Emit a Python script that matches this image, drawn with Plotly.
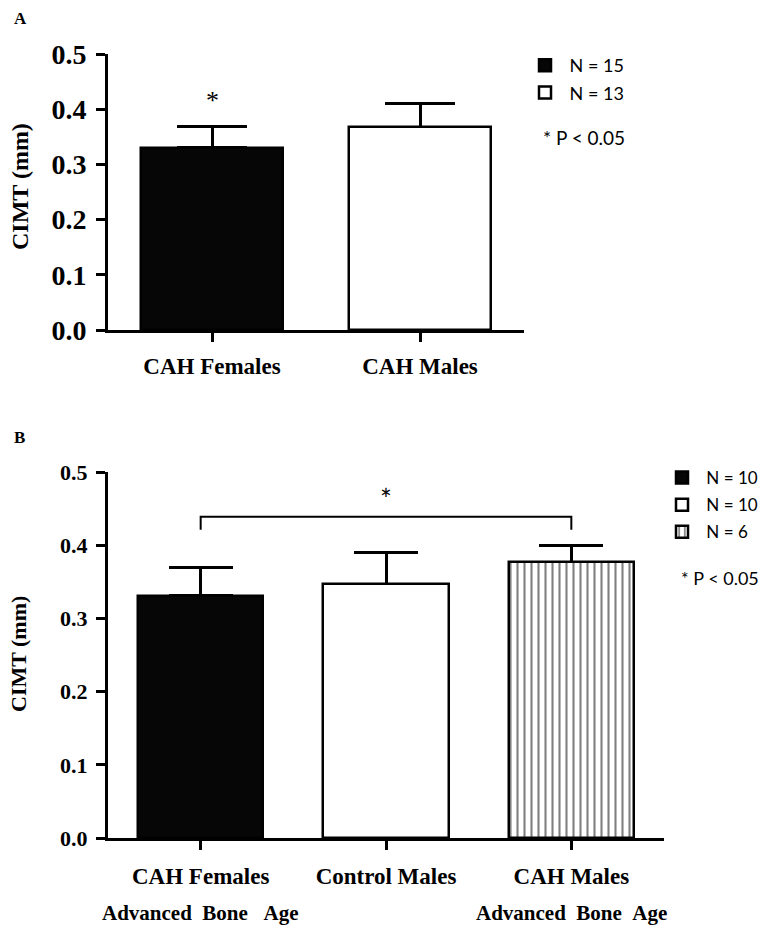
import plotly.graph_objects as go

# ---------------- data ----------------
cats_a = ["CAH Females", "CAH Males"]
mean_a = [0.330, 0.367]
err_a = [0.038, 0.044]
n_a = [15, 13]

cats_b = ["CAH Females", "Control Males", "CAH Males"]
sub_b = ["Advanced  Bone   Age", "", "Advanced  Bone  Age"]
mean_b = [0.331, 0.347, 0.377]
err_b = [0.038, 0.043, 0.023]
n_b = [10, 10, 6]

y_ticks = [0.0, 0.1, 0.2, 0.3, 0.4, 0.5]
sig_label = "* P < 0.05"
y_title = "CIMT (mm)"

W, H = 771, 933
def px(x):
    return x / W
def py(y):
    return (H - y) / H

SERIF = "Liberation Serif"
SANS = "Lato"
NB = "\u00a0"

fills_a = ["#060606", "white"]
fills_b = ["#060606", "white", "white"]
shapes_b = ["", "", "|"]

fig = go.Figure()

# error bars first (so the bars cover the lower cap)
for i, c in enumerate(cats_a):
    fig.add_trace(go.Bar(
        x=[c], y=[mean_a[i]], width=0.68,
        marker=dict(color="rgba(0,0,0,0)", line=dict(width=0)),
        error_y=dict(type="data", symmetric=False, array=[err_a[i]], arrayminus=[0],
                     color="black", thickness=3, width=35),
        xaxis="x", yaxis="y", showlegend=False, hoverinfo="skip",
    ))
for i, c in enumerate(cats_b):
    fig.add_trace(go.Bar(
        x=[c], y=[mean_b[i]], width=0.675,
        marker=dict(color="rgba(0,0,0,0)", line=dict(width=0)),
        error_y=dict(type="data", symmetric=False, array=[err_b[i]], arrayminus=[0],
                     color="black", thickness=3, width=32),
        xaxis="x2", yaxis="y2", showlegend=False, hoverinfo="skip",
    ))

for i, c in enumerate(cats_a):
    fig.add_trace(go.Bar(
        x=[c], y=[mean_a[i]], width=0.68,
        marker=dict(color=fills_a[i], line=dict(color="black", width=2.5)),
        name=NB + f"N = {n_a[i]}", legend="legend", legendgroup=f"a{i}",
        xaxis="x", yaxis="y", showlegend=True, hoverinfo="skip",
    ))

for i, c in enumerate(cats_b):
    fig.add_trace(go.Bar(
        x=[c], y=[mean_b[i]], width=0.675,
        marker=dict(color=fills_b[i], line=dict(color="black", width=2.5),
                    pattern=dict(shape=shapes_b[i], fgcolor="black", bgcolor=fills_b[i],
                                 size=7, solidity=0.3, fillmode="overlay")),
        name=NB + f"N = {n_b[i]}", legend="legend2", legendgroup=f"b{i}",
        xaxis="x2", yaxis="y2", showlegend=True, hoverinfo="skip",
    ))

axis_common = dict(showline=True, linecolor="black", linewidth=3, ticks="outside",
                   ticklen=9, tickwidth=3, tickcolor="black", showgrid=False,
                   zeroline=False, automargin=False)

fig.update_layout(
    width=W, height=H, margin=dict(l=0, r=0, t=0, b=0, autoexpand=False),
    paper_bgcolor="white", plot_bgcolor="white",
    barmode="overlay", bargap=0,
    xaxis=dict(domain=[px(108), px(524)], anchor="y", type="category",
               range=[-0.5, 1.5], ticklabelstandoff=4,
               tickfont=dict(family=SERIF, size=23, color="black", weight="bold"),
               **axis_common),
    yaxis=dict(domain=[py(330), py(54)], anchor="x", range=[0, 0.5],
               tickvals=y_ticks, ticktext=[f"{v:.1f}" for v in y_ticks],
               ticklabelstandoff=4,
               tickfont=dict(family=SERIF, size=28, color="black", weight="bold"),
               **axis_common),
    xaxis2=dict(domain=[px(108), px(664)], anchor="y2", type="category",
                range=[-0.5, 2.5], ticklabelstandoff=6,
                tickfont=dict(family=SERIF, size=23, color="black", weight="bold"),
                **axis_common),
    yaxis2=dict(domain=[py(838), py(472)], anchor="x2", range=[0, 0.5],
                tickvals=y_ticks, ticktext=[f"{v:.1f}" for v in y_ticks],
                ticklabelstandoff=4,
                tickfont=dict(family=SERIF, size=22, color="black", weight="bold"),
                **axis_common),
    legend=dict(x=px(525), y=py(47), xanchor="left", yanchor="top",
                bgcolor="rgba(0,0,0,0)", borderwidth=0, traceorder="grouped",
                tracegroupgap=1, font=dict(family=SANS, size=18, color="black")),
    legend2=dict(x=px(662), y=py(460), xanchor="left", yanchor="top",
                 bgcolor="rgba(0,0,0,0)", borderwidth=0, traceorder="grouped",
                 tracegroupgap=2, font=dict(family=SANS, size=17, color="black")),
    showlegend=True,
)

ann = []
ann.append(dict(text="<b>A</b>", x=px(12), y=py(18), xref="paper", yref="paper",
                xanchor="left", yanchor="middle", showarrow=False,
                font=dict(family=SERIF, size=17, color="black")))
ann.append(dict(text="<b>B</b>", x=px(12), y=py(437), xref="paper", yref="paper",
                xanchor="left", yanchor="middle", showarrow=False,
                font=dict(family=SERIF, size=17, color="black")))
ann.append(dict(text=f"<b>{y_title}</b>", x=px(20), y=py(187), xref="paper", yref="paper",
                textangle=-90, showarrow=False, xanchor="center", yanchor="middle",
                font=dict(family=SERIF, size=24, color="black")))
ann.append(dict(text=f"<b>{y_title}</b>", x=px(18), y=py(654), xref="paper", yref="paper",
                textangle=-90, showarrow=False, xanchor="center", yanchor="middle",
                font=dict(family=SERIF, size=22, color="black")))
ann.append(dict(text=sig_label, x=px(541), y=py(137), xref="paper", yref="paper",
                xanchor="left", yanchor="middle", showarrow=False,
                font=dict(family=SANS, size=19, color="black")))
ann.append(dict(text=sig_label, x=px(679), y=py(578), xref="paper", yref="paper",
                xanchor="left", yanchor="middle", showarrow=False,
                font=dict(family=SANS, size=18, color="black")))
ann.append(dict(text="*", x=cats_a[0], y=0.415, xref="x", yref="y",
                xanchor="center", yanchor="middle", showarrow=False,
                font=dict(family=SERIF, size=26, color="black")))
ann.append(dict(text="*", x=cats_b[1], y=0.463, xref="x2", yref="y2",
                xanchor="center", yanchor="middle", showarrow=False,
                font=dict(family=SANS, size=28, color="black")))
for i, s in enumerate(sub_b):
    if s:
        ann.append(dict(text="<b>" + s.replace(" ", NB) + "</b>", x=cats_b[i], y=py(913),
                        xref="x2", yref="paper", xanchor="center", yanchor="middle",
                        showarrow=False, font=dict(family=SERIF, size=21, color="black")))
fig.update_layout(annotations=ann)

fig.add_shape(type="path", xref="x2", yref="y2",
              path="M 0,0.421 L 0,0.439 L 2,0.439 L 2,0.421",
              line=dict(color="black", width=2))

fig.write_html("out.html", config={"displayModeBar": False},
               post_script="document.body.style.margin='0px';")
